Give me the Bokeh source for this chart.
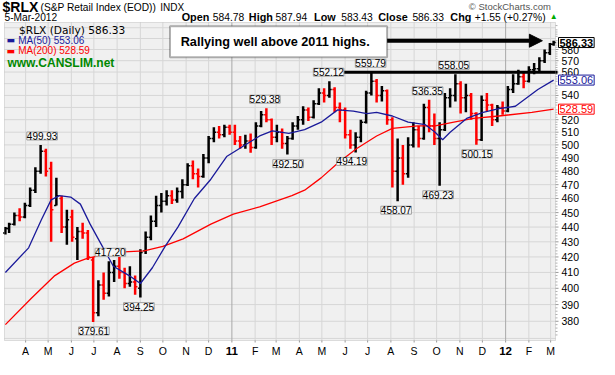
import math
import pandas as pd
from bokeh.plotting import figure
from bokeh.models import (Range1d, Label, LabelSet, ColumnDataSource,
                          BoxAnnotation, Arrow, NormalHead)
from bokeh.core.properties import value
from bokeh.embed import file_html
from bokeh.resources import INLINE

# ---------------- data (weekly bars) ----------------
bar_dates = (["2010-03-05"]
             + [d.strftime("%Y-%m-%d") for d in pd.date_range("2010-03-10", "2012-02-29", freq="W-WED")]
             + ["2012-03-05"])

opens = [436,
         439, 442, 448, 447,            # Mar 2010
         455, 466, 480, 495,            # Apr
         482, 455, 460, 440, 447,       # May
         432, 437, 436, 418,            # Jun
         385, 402, 397, 410,            # Jul
         414, 410, 403, 404, 400,       # Aug
         424, 433, 444, 455,            # Sep
         458, 462, 459, 465,            # Oct
         470, 484, 478, 476, 490,       # Nov
         505, 510, 508, 514,            # Dec
         510, 503, 500, 503, 498,       # Jan 2011
         515, 524, 520, 506,            # Feb
         510, 501, 505, 515,            # Mar
         520, 528, 522, 533,            # Apr
         542, 540, 545, 530, 528,       # May
         508, 500, 506, 518,            # Jun
         542, 552, 540, 544,            # Jul
         520, 480, 490, 478, 500,       # Aug
         512, 505, 530, 515,            # Sep
         505, 512, 538, 540, 550,       # Oct
         538, 540, 525, 504,            # Nov
         536, 532, 520, 530,            # Dec
         527, 545, 550, 556, 552,       # Jan 2012
         562, 563, 570, 577,            # Feb
         584.78]                        # Mar 5
highs = [440,
         443, 450, 453, 457,
         468, 483, 499.93, 497,
         487, 475, 462, 452, 452,
         440, 443, 438, 420,
         405, 410, 417.20, 418,
         420, 413, 414, 408, 425,
         437, 448, 462, 464,
         466, 466, 468, 474,
         486, 488, 482, 493, 507,
         514, 515, 516, 516,
         516, 507, 508, 509, 518,
         527, 529.38, 521, 516,
         513, 507, 518, 523,
         531, 530, 536, 546,
         546, 552.12, 547, 534, 530,
         512, 510, 520, 544,
         559.79, 554, 548, 545,
         522, 505, 500, 506, 518,
         515, 533, 536.35, 525,
         518, 542, 546, 558.05, 552,
         550, 542, 526, 540,
         542, 533, 532, 535,
         548, 558, 562, 560, 565,
         568, 573, 580, 586,
         587.94]
lows = [435,
        436, 441, 444, 446,
        454, 464, 478, 476,
        430, 455, 436, 428, 430,
        418, 432, 418, 379.61,
        383, 393, 395, 404,
        406, 400, 401, 396, 394.25,
        422, 431, 440, 450,
        455, 456, 457, 460,
        469, 474, 468, 475, 486,
        502, 505, 506, 508,
        500, 497, 497, 494, 497,
        514, 518, 500, 502,
        497, 492.50, 504, 512,
        516, 519, 521, 532,
        534, 538, 526, 518, 505,
        497, 494.19, 502, 517,
        540, 534, 535, 516,
        468, 458.07, 470, 475, 498,
        498, 504, 510, 500,
        469.23, 511, 530, 535, 525,
        526, 520, 500.15, 503,
        527, 515, 518, 524,
        526, 542, 549, 546, 551,
        558, 560, 568, 575,
        583.43]
closes = [439,
          442, 448, 447, 455,
          466, 480, 495, 480,
          452, 462, 440, 445, 433,
          437, 436, 420, 385,
          402, 397, 410, 414,
          410, 403, 404, 401, 423,
          433, 444, 455, 458,
          462, 459, 465, 470,
          484, 478, 476, 490, 505,
          510, 508, 514, 510,
          503, 500, 503, 498, 515,
          524, 520, 506, 510,
          501, 505, 515, 520,
          528, 522, 533, 542,
          540, 545, 530, 528, 508,
          500, 506, 518, 542,
          552, 540, 544, 520,
          480, 490, 478, 500, 512,
          505, 530, 515, 505,
          512, 538, 540, 550, 538,
          540, 525, 504, 536,
          532, 520, 530, 527,
          545, 550, 556, 552, 562,
          563, 570, 577, 584.78,
          586.33]

ma50_dates = ["2010-03-05", "2010-04-05", "2010-04-22", "2010-05-05", "2010-05-16", "2010-05-31",
              "2010-06-13", "2010-06-26", "2010-07-09", "2010-07-27", "2010-08-17", "2010-09-01",
              "2010-09-17", "2010-10-04", "2010-10-21", "2010-11-12", "2010-12-04", "2010-12-25",
              "2011-01-16", "2011-02-07", "2011-02-24", "2011-03-18", "2011-04-08", "2011-04-30",
              "2011-05-22", "2011-06-12", "2011-06-30", "2011-07-13", "2011-08-03", "2011-08-24",
              "2011-09-16", "2011-09-29", "2011-10-09", "2011-10-19", "2011-11-10", "2011-12-02",
              "2011-12-23", "2012-01-14", "2012-01-27", "2012-02-13", "2012-03-05"]
ma50 = [410, 426, 445, 459, 462, 461, 456, 442, 430, 414, 408, 403, 413, 427, 440, 460, 474, 491,
        499, 507, 511, 509, 512, 518, 528, 527, 525, 526, 523, 518, 516, 510, 504, 510, 521, 526,
        529, 531, 537, 545, 553.06]

ma200_dates = ["2010-03-05", "2010-04-09", "2010-05-10", "2010-06-05", "2010-06-22", "2010-07-27",
               "2010-09-06", "2010-10-01", "2010-10-28", "2010-12-04", "2011-01-03", "2011-02-07",
               "2011-03-22", "2011-04-08", "2011-04-30", "2011-05-22", "2011-06-16", "2011-07-13",
               "2011-08-03", "2011-09-06", "2011-09-29", "2011-10-24", "2011-11-19", "2011-12-23",
               "2012-02-05", "2012-03-05"]
ma200 = [378, 394, 408, 416, 419, 423, 424, 427, 432, 442, 449, 454, 462, 466, 475, 486, 497, 507,
         513, 515, 515, 518, 521, 523, 526, 528.59]

high_label_dates = ["2010-04-23", "2010-07-23", "2011-02-14", "2011-05-10", "2011-07-05", "2011-09-19", "2011-10-24"]
high_label_values = [499.93, 417.20, 529.38, 552.12, 559.79, 536.35, 558.05]
low_label_dates = ["2010-07-01", "2010-08-30", "2011-03-17", "2011-06-10", "2011-08-08", "2011-10-03", "2011-11-24"]
low_label_values = [379.61, 394.25, 492.50, 494.19, 458.07, 469.23, 500.15]

month_starts = [d.strftime("%Y-%m-%d") for d in pd.date_range("2010-04-01", "2012-03-01", freq="MS")]
month_labels = ["A", "M", "J", "J", "A", "S", "O", "N", "D", "11", "F", "M",
                "A", "M", "J", "J", "A", "S", "O", "N", "D", "12", "F", "M"]
price_ticks = [380, 390, 400, 410, 420, 430, 440, 450, 460, 470, 480, 490, 500,
               510, 520, 540, 560, 570, 580]
grid_prices = list(range(370, 601, 10))

resistance_level = 559.79
resistance_start = "2011-05-13"
arrow_level = 588
arrow_start, arrow_end = "2011-07-27", "2012-02-19"

last_close, last_ma50, last_ma200 = 586.33, 553.06, 528.59
header_stats = [("Open", "584.78"), ("High", "587.94"), ("Low", "583.43"),
                ("Close", "586.33"), ("Chg", "+1.55 (+0.27%)")]

# ---------------- geometry ----------------
W, H = 599, 359
PL, PR, PT, PB = 4, 555, 22, 340          # plot-area box inside the canvas
FONT = "Liberation Sans"
WIDE = "DejaVu Sans"

x_start = pd.Timestamp("2010-03-03 20:00")
x_end = pd.Timestamp("2012-03-07 12:00")
y_lo, y_hi = 368.8, 604.9

ms_per_px = (x_end - x_start) / pd.Timedelta(milliseconds=1) / (PR - PL)
k = math.log(y_hi / y_lo) / (PB - PT)
xr0 = x_start - pd.Timedelta(milliseconds=ms_per_px * PL)
xr1 = x_end + pd.Timedelta(milliseconds=ms_per_px * (W - PR))
yr0 = y_lo * math.exp(-k * (H - PB))
yr1 = y_hi * math.exp(k * PT)


def px_dx(n):
    return pd.Timedelta(milliseconds=ms_per_px * n)


def cx(rx):  # reference x pixel -> canvas x
    return PL + (rx - 5) * (PR - PL) / 566


def cy(ry):  # reference y pixel -> canvas y (top-down)
    return ry * PT / 25 if ry < 25 else PT + (ry - 25) * (PB - PT) / 330


p = figure(width=W, height=H, x_axis_type="datetime", y_axis_type="log",
           x_range=Range1d(xr0, xr1), y_range=Range1d(yr0, yr1),
           x_axis_location=None, y_axis_location=None,
           output_backend="svg", toolbar_location=None, min_border=0)
p.background_fill_color = "white"
p.border_fill_color = "white"
p.outline_line_color = None
p.grid.visible = False

# plot area background
p.add_layout(BoxAnnotation(left=x_start, right=x_end, bottom=y_lo, top=y_hi,
                           fill_color="#F0F0F0", fill_alpha=1, line_color=None, level="underlay"))

# grid lines
p.segment(x0=[x_start] * len(grid_prices), x1=[x_end] * len(grid_prices),
          y0=grid_prices, y1=grid_prices, line_color="#D6D6D6", line_width=1)
mdates = pd.to_datetime(month_starts)
is_year = [l.isdigit() for l in month_labels]
p.segment(x0=mdates, x1=mdates, y0=[y_lo] * len(mdates), y1=[y_hi] * len(mdates),
          line_color=["#A8A8A8" if y else "#D6D6D6" for y in is_year], line_width=1)

# axis tick marks
p.segment(x0=[x_end] * len(price_ticks), x1=[x_end + px_dx(3)] * len(price_ticks),
          y0=price_ticks, y1=price_ticks, line_color="#999999")
minor = [v for v in range(370, 604, 2) if v % 10]
p.segment(x0=[x_end] * len(minor), x1=[x_end + px_dx(2)] * len(minor),
          y0=minor, y1=minor, line_color="#B0B0B0")
p.segment(x0=mdates, x1=mdates, y0=[y_lo] * len(mdates),
          y1=[y_lo * math.exp(-k * 2)] * len(mdates), line_color="#999999")

# price bars (OHLC)
colors = ["black" if c >= o else "#FF0000" for o, c in zip(opens, closes)]
bx = pd.to_datetime(bar_dates)
src = ColumnDataSource(dict(x=bx, xo=bx - px_dx(2.3), xc=bx + px_dx(2.3), high=highs, low=lows,
                            open=opens, close=closes, color=colors))
p.segment(x0="x", x1="x", y0="low", y1="high", line_color="color", line_width=2.5, source=src)
p.segment(x0="xo", x1="x", y0="open", y1="open", line_color="color", line_width=1.5, source=src)
p.segment(x0="x", x1="xc", y0="close", y1="close", line_color="color", line_width=1.5, source=src)

# moving averages
p.line(pd.to_datetime(ma200_dates), ma200, line_color="#FF0000", line_width=1.3)
p.line(pd.to_datetime(ma50_dates), ma50, line_color="#1A1A9A", line_width=1.3)

# resistance line at the 2011 high
p.segment(x0=[pd.Timestamp(resistance_start)], y0=[resistance_level],
          x1=[x_end + px_dx(2)], y1=[resistance_level], line_color="black", line_width=3)

# frame border
p.add_layout(BoxAnnotation(left=x_start, right=x_end, bottom=y_lo, top=y_hi,
                           fill_alpha=0, line_color="#9A9A9A", line_width=1, level="overlay"))

# peak / trough labels
for dates, vals, base, off in ((high_label_dates, high_label_values, "bottom", 5),
                               (low_label_dates, low_label_values, "top", -5)):
    s = ColumnDataSource(dict(x=pd.to_datetime(dates), y=vals, t=[f"{v:.2f}" for v in vals]))
    p.add_layout(LabelSet(x="x", y="y", text="t", source=s, text_align="center",
                          text_baseline=base, y_offset=off, text_font=value(FONT),
                          text_font_size="10px", text_color="black",
                          background_fill_color="#F7F7F7", border_line_color="#A0A0A0"))

# axis labels (months along the bottom, prices on the right)
for want_year, style, size in ((False, "normal", "10.5px"), (True, "bold", "11.5px")):
    sel = [i for i, y in enumerate(is_year) if y == want_year]
    s = ColumnDataSource(dict(x=[mdates[i] for i in sel], t=[month_labels[i] for i in sel]))
    p.add_layout(LabelSet(x="x", y=H - 350, y_units="screen", text="t", source=s,
                          text_align="center", text_baseline="middle",
                          text_font=value(FONT), text_font_size=size,
                          text_font_style=style, text_color="black"))
s = ColumnDataSource(dict(y=price_ticks, t=[str(v) for v in price_ticks]))
p.add_layout(LabelSet(x=PR + 6, x_units="screen", y="y", text="t", source=s,
                      text_align="left", text_baseline="middle",
                      text_font=value(FONT), text_font_size="10.5px", text_color="black"))


def txt(text, rx, ry, size, color="black", bold=False, align="left", font=FONT):
    p.add_layout(Label(x=cx(rx), y=H - cy(ry), x_units="screen", y_units="screen", text=text,
                       text_font=font, text_font_size=f"{size}px",
                       text_font_style="bold" if bold else "normal",
                       text_color=color, text_align=align, text_baseline="middle"))


# header
txt("$RLX", 3, 7.7, 14, bold=True)
txt("(S&P Retail Index (EOD))", 42, 7.5, 10.2)
txt("INDX", 165, 7.5, 10)
txt("© StockCharts.com", 482, 6.3, 9.5, color="#555555")
txt("5-Mar-2012", 5, 18.8, 10.2)
for (lab, val), rl, rv in zip(header_stats, (187, 256, 323, 389, 463), (219, 283.5, 351, 424, 488)):
    txt(lab, rl, 18.8, 10.8, bold=True)
    txt(val, rv, 18.8, 10.3)
txt("▲", 565, 18.5, 8, color="#00AA00")

# legend inside the plot area
txt(f"$RLX (Daily) {last_close:.2f}", 20, 32.8, 10.6, font=WIDE)
txt("▬", 7, 43.5, 9, color="#1A1A9A", font=WIDE)
txt(f"MA(50) {last_ma50:.2f}", 19, 43.5, 10, color="#1A1A9A")
txt("▬", 7, 54.3, 9, color="#FF0000", font=WIDE)
txt(f"MA(200) {last_ma200:.2f}", 19, 54.3, 10, color="#FF0000")
txt("www.CANSLIM.net", 8, 66.7, 12, color="#008800", bold=True)

# annotation box + arrow
p.add_layout(BoxAnnotation(left=cx(175), right=cx(398), top=H - cy(29), bottom=H - cy(61),
                           left_units="screen", right_units="screen",
                           top_units="screen", bottom_units="screen",
                           fill_color="white", fill_alpha=1, line_color="black", line_width=2))
txt("Rallying well above 2011 highs.", 186, 45, 12.7, bold=True)
p.add_layout(Arrow(end=NormalHead(size=13, fill_color="black", line_color="black"),
                   x_start=pd.Timestamp(arrow_start).value // 10**6, y_start=arrow_level,
                   x_end=pd.Timestamp(arrow_end).value // 10**6, y_end=arrow_level,
                   line_color="black", line_width=4))

# last-value boxes on the right axis
for v, col, bold in ((last_close, "black", True), (last_ma50, "#1A1A9A", False),
                     (last_ma200, "#FF0000", False)):
    p.add_layout(Label(x=PR + 3, y=v, x_units="screen", y_units="data", text=f"{v:.2f}",
                       text_font=FONT, text_font_size="11px",
                       text_font_style="bold" if bold else "normal",
                       text_color=col, text_baseline="middle", text_align="left",
                       background_fill_color="white", border_line_color=col, padding=1))

open("out.html", "w").write(file_html(p, INLINE))
